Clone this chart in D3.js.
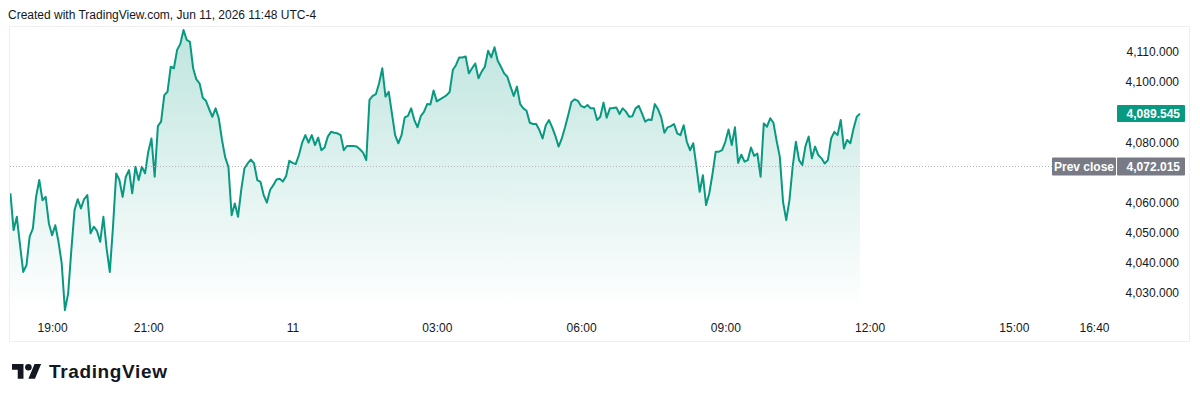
<!DOCTYPE html>
<html>
<head>
<meta charset="utf-8">
<script src="https://cdn.jsdelivr.net/npm/d3@7"></script>
<style>
  body { margin: 0; background: #fff; }
  svg { display: block; font-family: "Liberation Sans", Arial, sans-serif; }
</style>
</head>
<body>
<div id="chart"></div>
<script>
// 4-minute bars, Jun 10 18:08 -> Jun 11 11:48 (UTC-4)
const startTime = new Date(2026, 5, 10, 18, 8);
const barMinutes = 4;

const prices = [
  4063.1, 4050.9, 4055.3, 4045.9, 4037.0, 4039.2, 4048.7, 4051.4, 4061.9, 4067.5,
  4060.8, 4061.9, 4053.1, 4049.2, 4052.5, 4047.0, 4039.8, 4024.3, 4029.8, 4044.2,
  4057.5, 4061.1, 4058.1, 4061.2, 4062.5, 4049.8, 4052.0, 4050.6, 4047.0, 4055.3,
  4044.8, 4037.0, 4052.0, 4069.7, 4067.5, 4061.9, 4068.6, 4070.8, 4063.1, 4071.9,
  4067.5, 4071.9, 4069.7, 4076.9, 4081.3, 4068.6, 4085.4, 4086.9, 4095.7, 4096.8,
  4105.1, 4104.6, 4110.7, 4112.7, 4117.3, 4114.0, 4113.4, 4104.6, 4100.9, 4099.6,
  4094.8, 4093.8, 4091.0, 4088.5, 4091.3, 4088.0, 4080.8, 4075.0, 4071.9, 4055.8,
  4059.7, 4055.3, 4064.2, 4071.4, 4073.0, 4074.3, 4073.0, 4067.5, 4066.9, 4062.5,
  4060.0, 4064.2, 4065.8, 4067.7, 4067.9, 4067.0, 4068.8, 4073.9, 4073.2, 4072.8,
  4075.8, 4079.9, 4082.4, 4079.9, 4082.4, 4079.1, 4081.6, 4077.4, 4078.3, 4081.9,
  4083.5, 4083.2, 4083.0, 4082.4, 4077.4, 4078.8, 4078.8, 4078.8, 4078.6, 4077.7,
  4076.6, 4074.1, 4094.1, 4095.4, 4096.0, 4099.6, 4104.6, 4095.2, 4096.8, 4089.6,
  4082.4, 4079.7, 4082.4, 4088.3, 4088.8, 4091.3, 4087.4, 4085.0, 4088.7, 4090.1,
  4092.7, 4092.6, 4097.2, 4093.6, 4094.3, 4094.9, 4095.6, 4096.7, 4104.0, 4105.7,
  4108.2, 4108.2, 4108.5, 4102.9, 4104.6, 4106.2, 4101.3, 4103.5, 4105.1, 4110.4,
  4108.2, 4111.6, 4107.1, 4105.1, 4102.9, 4101.8, 4098.5, 4095.4, 4098.5, 4092.7,
  4091.3, 4090.5, 4086.5, 4086.1, 4086.1, 4084.1, 4081.3, 4085.7, 4087.4, 4085.0,
  4082.1, 4078.6, 4081.3, 4085.0, 4089.1, 4093.4, 4094.3, 4093.8, 4092.1, 4091.6,
  4092.4, 4091.3, 4091.3, 4087.4, 4088.5, 4093.2, 4088.2, 4091.3, 4091.4, 4091.6,
  4089.4, 4091.3, 4090.2, 4088.5, 4088.7, 4091.3, 4092.1, 4089.6, 4086.9, 4087.6,
  4087.4, 4092.7, 4091.0, 4088.3, 4083.2, 4085.0, 4085.4, 4086.1, 4083.0, 4082.4,
  4085.7, 4080.2, 4077.4, 4079.7, 4071.9, 4063.6, 4069.1, 4059.2, 4063.1, 4069.5,
  4076.9, 4076.9, 4077.4, 4080.2, 4084.3, 4079.1, 4085.0, 4073.2, 4075.9, 4073.6,
  4074.1, 4078.3, 4075.5, 4076.3, 4068.6, 4086.3, 4085.2, 4088.0, 4086.5, 4080.5,
  4075.2, 4060.3, 4054.2, 4060.8, 4071.9, 4080.2, 4074.1, 4072.5, 4078.8, 4081.9,
  4074.7, 4078.6, 4075.8, 4074.7, 4073.0, 4074.1, 4081.3, 4083.5, 4082.4, 4087.4,
  4078.0, 4080.8, 4079.7, 4084.6, 4088.5, 4089.545
];

const lastPrice = 4089.545;
const prevClose = 4072.015;

// 4,070 and 4,090 sit under the price labels, so they are left out
const priceTicks = [4030, 4040, 4050, 4060, 4080, 4100, 4110];

const timeTickDates = [
  new Date(2026, 5, 10, 19, 0), new Date(2026, 5, 10, 21, 0), new Date(2026, 5, 11, 0, 0),
  new Date(2026, 5, 11, 3, 0), new Date(2026, 5, 11, 6, 0), new Date(2026, 5, 11, 9, 0),
  new Date(2026, 5, 11, 12, 0), new Date(2026, 5, 11, 15, 0), new Date(2026, 5, 11, 16, 40)
];
const timeTickLabels = ["19:00", "21:00", "11", "03:00", "06:00", "09:00", "12:00", "15:00", "16:40"];

const data = prices.map((p, i) => ({
  date: new Date(startTime.getTime() + i * barMinutes * 60000),
  value: p
}));

const width = 1200, height = 401;
const green = "#089981";

const svg = d3.select("#chart").append("svg")
  .attr("width", width)
  .attr("height", height);

// header
svg.append("text")
  .attr("x", 8).attr("y", 18.5)
  .attr("font-size", 12).attr("fill", "#131722")
  .text("Created with TradingView.com, Jun 11, 2026 11:48 UTC-4");

// pane frame
svg.append("rect")
  .attr("x", 9.5).attr("y", 26.5)
  .attr("width", 1180).attr("height", 315)
  .attr("fill", "none").attr("stroke", "#eef0f3");

const x = d3.scaleTime()
  .domain([new Date(2026, 5, 10, 18, 0), new Date(2026, 5, 11, 16, 40)])
  .range([4, 1094]);

const y = d3.scaleLinear()
  .domain([4030, 4110])
  .range([293, 52]);

const defs = svg.append("defs");
const grad = defs.append("linearGradient")
  .attr("id", "fillGrad")
  .attr("gradientUnits", "userSpaceOnUse")
  .attr("x1", 0).attr("x2", 0)
  .attr("y1", 30).attr("y2", 310);
grad.append("stop").attr("offset", 0).attr("stop-color", green).attr("stop-opacity", 0.26);
grad.append("stop").attr("offset", 1).attr("stop-color", green).attr("stop-opacity", 0);

defs.append("clipPath").attr("id", "plotClip")
  .append("rect").attr("x", 10).attr("y", 27).attr("width", 1040).attr("height", 290);

const plot = svg.append("g").attr("clip-path", "url(#plotClip)");

plot.append("path")
  .datum(data)
  .attr("fill", "url(#fillGrad)")
  .attr("d", d3.area()
    .x(d => x(d.date))
    .y0(310)
    .y1(d => y(d.value)));

// prev close dotted line
svg.append("line")
  .attr("x1", 10).attr("x2", 1052)
  .attr("y1", Math.round(y(prevClose)) + 0.5).attr("y2", Math.round(y(prevClose)) + 0.5)
  .attr("stroke", "#b2b5be")
  .attr("stroke-dasharray", "1,2");

plot.append("path")
  .datum(data)
  .attr("fill", "none")
  .attr("stroke", green)
  .attr("stroke-width", 2)
  .attr("stroke-linejoin", "round")
  .attr("d", d3.line()
    .x(d => x(d.date))
    .y(d => y(d.value)));

// time axis
const xAxis = svg.append("g")
  .attr("transform", "translate(0,317)")
  .call(d3.axisBottom(x)
    .tickValues(timeTickDates)
    .tickFormat((d, i) => timeTickLabels[i])
    .tickSize(0)
    .tickPadding(6));
xAxis.select(".domain").remove();
xAxis.selectAll("text")
  .attr("font-size", 12)
  .attr("font-family", "Liberation Sans, Arial, sans-serif")
  .attr("fill", "#131722");

// price axis
const yAxis = svg.append("g")
  .attr("transform", "translate(1179,0)")
  .call(d3.axisRight(y)
    .tickValues(priceTicks)
    .tickFormat(d3.format(",.3f"))
    .tickSize(0));
yAxis.select(".domain").remove();
yAxis.selectAll("text")
  .attr("x", 0)
  .attr("text-anchor", "end")
  .attr("font-size", 12)
  .attr("font-family", "Liberation Sans, Arial, sans-serif")
  .attr("fill", "#131722");

// last price label
const yl = y(lastPrice);
svg.append("rect")
  .attr("x", 1117).attr("y", yl - 8.5)
  .attr("width", 68).attr("height", 17)
  .attr("rx", 1)
  .attr("fill", green);
svg.append("text")
  .attr("x", 1180).attr("y", yl)
  .attr("dy", "0.35em")
  .attr("text-anchor", "end")
  .attr("font-size", 12)
  .attr("font-weight", "bold")
  .attr("fill", "#fff")
  .text(d3.format(",.3f")(lastPrice));

// prev close labels
const yp = y(prevClose);
svg.append("rect")
  .attr("x", 1052).attr("y", yp - 9)
  .attr("width", 64).attr("height", 18)
  .attr("rx", 1)
  .attr("fill", "#787b86");
svg.append("text")
  .attr("x", 1084).attr("y", yp)
  .attr("dy", "0.35em")
  .attr("text-anchor", "middle")
  .attr("font-size", 12)
  .attr("font-weight", "bold")
  .attr("fill", "#fff")
  .text("Prev close");
svg.append("rect")
  .attr("x", 1117).attr("y", yp - 9)
  .attr("width", 68).attr("height", 18)
  .attr("rx", 1)
  .attr("fill", "#787b86");
svg.append("text")
  .attr("x", 1180).attr("y", yp)
  .attr("dy", "0.35em")
  .attr("text-anchor", "end")
  .attr("font-size", 12)
  .attr("font-weight", "bold")
  .attr("fill", "#fff")
  .text(d3.format(",.3f")(prevClose));

// TradingView logo
const logo = svg.append("g").attr("transform", "translate(12,360.7) scale(0.82)");
logo.append("path")
  .attr("d", "M14 22H7V11H0V4h14v18zM28 22h-8l7.5-18h8L28 22z")
  .attr("fill", "#131722");
logo.append("circle")
  .attr("cx", 20).attr("cy", 8).attr("r", 4)
  .attr("fill", "#131722");
svg.append("text")
  .attr("x", 49).attr("y", 377.5)
  .attr("font-size", 19)
  .attr("font-weight", "bold")
  .attr("textLength", 118)
  .attr("lengthAdjust", "spacing")
  .attr("fill", "#131722")
  .text("TradingView");
</script>
</body>
</html>
